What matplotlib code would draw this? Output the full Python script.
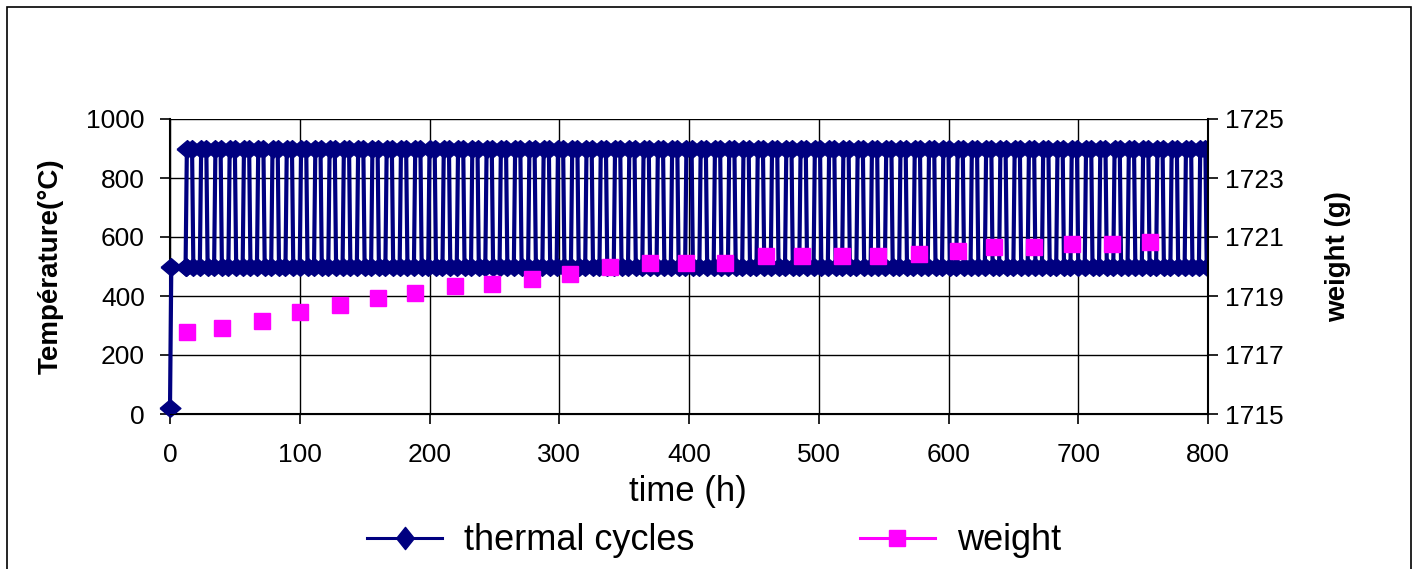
import matplotlib
matplotlib.use("Agg")
import matplotlib.pyplot as plt
from matplotlib.lines import Line2D
from matplotlib.patches import Rectangle

plt.rcParams['font.family'] = ['Liberation Sans', 'DejaVu Sans']

# ---- data ----
weight_time = [13, 40, 71, 100, 131, 160, 189, 220, 248, 279, 308, 339, 370,
               398, 428, 459, 487, 518, 546, 577, 607, 635, 666, 695, 726, 755]
weight_g = [1717.77, 1717.93, 1718.16, 1718.47, 1718.71, 1718.94, 1719.10,
            1719.34, 1719.42, 1719.58, 1719.74, 1719.97, 1720.13, 1720.13,
            1720.13, 1720.37, 1720.36, 1720.36, 1720.36, 1720.43, 1720.52,
            1720.67, 1720.67, 1720.75, 1720.75, 1720.83]

start_time = [0, 1, 12]
start_temp = [20, 500, 500]
cycle_starts = [12, 23, 34, 45, 56, 67, 78, 89, 100, 111, 122, 133, 144, 155,
                166, 177, 188, 199, 210, 221, 232, 243, 254, 265, 276, 287,
                298, 309, 320, 331, 342, 353, 364, 375, 386, 397, 408, 419,
                430, 441, 452, 463, 474, 485, 496, 507, 518, 529, 540, 551,
                562, 573, 584, 595, 606, 617, 628, 639, 650, 661, 672, 683,
                694, 705, 716, 727, 738, 749, 760, 771, 782, 793]
t_high = 900
t_low = 500
xticks = [0, 100, 200, 300, 400, 500, 600, 700, 800]
yticks_left = [0, 200, 400, 600, 800, 1000]
yticks_right = [1715, 1717, 1719, 1721, 1723, 1725]

# build thermal profile from the cycle start times
cyc_t = [start_time[-1]]
cyc_T = [start_temp[-1]]
for s in cycle_starts:
    cyc_t += [s + 1.0, s + 5.0, s + 6.0, s + 11.0]
    cyc_T += [t_high, t_high, t_low, t_low]

NAVY = '#000080'
MAGENTA = '#FF00FF'
diamond = [(-1, 0), (0, 0.85), (1, 0), (0, -0.85), (-1, 0)]
diamond_leg = [(-0.8, 0), (0, 1), (0.8, 0), (0, -1), (-0.8, 0)]

W, H = 1418, 569
fig = plt.figure(figsize=(W / 100, H / 100), dpi=100)
fig.patches.append(Rectangle((7 / W, -0.05), (1411 - 7) / W, 1 - 7 / H + 0.05,
                             transform=fig.transFigure, fill=False,
                             edgecolor='black', linewidth=1.2))

ax = fig.add_axes([170 / W, 1 - 414 / H, (1208 - 170) / W, (414 - 119) / H])
ax.set_xlim(0, 800)
ax.set_ylim(0, 1000)
ax.set_xticks(xticks)
ax.set_yticks(yticks_left)
ax.grid(True, color='black', linewidth=1.0)
ax.set_axisbelow(True)
for sp in ['top', 'right']:
    ax.spines[sp].set_visible(False)
ax.spines['left'].set_linewidth(1.5)
ax.spines['bottom'].set_linewidth(1.5)
ax.tick_params(axis='both', direction='out', length=7, width=1.2,
               labelsize=19)
ax.tick_params(axis='x', pad=14)
ax.tick_params(axis='y', pad=11)

# initial heating segment (drawn unclipped so its markers show whole)
ax.plot(start_time, start_temp, color=NAVY, linewidth=3.0, marker=diamond,
        markersize=15, clip_on=False, zorder=3)
# thermal cycles
ax.plot(cyc_t, cyc_T, color=NAVY, linewidth=3.0, marker=diamond,
        markersize=15, clip_on=True, zorder=3)

ax2 = ax.twinx()
ax2.set_ylim(1715, 1725)
ax2.set_yticks(yticks_right)
for sp in ['top', 'left']:
    ax2.spines[sp].set_visible(False)
ax2.spines['right'].set_linewidth(1.5)
ax2.tick_params(axis='y', direction='out', length=7, width=1.2,
                labelsize=19, pad=5)
ax2.plot(weight_time, weight_g, linestyle='none', marker='s',
         markersize=11.5, color=MAGENTA, zorder=4)

ax.set_ylabel('Température(°C)', fontsize=20, fontweight='bold')
ax.yaxis.label.set_va('center')
ax.yaxis.label.set_ha('center')
ax.yaxis.set_label_coords((51 - 170) / 1038, 0.5)

ax2.set_ylabel('weight (g)', fontsize=20, fontweight='bold')
ax2.yaxis.label.set_va('center')
ax2.yaxis.label.set_ha('center')
ax2.yaxis.set_label_coords((1338 - 170) / 1038, (414 - 257) / 295)

ax.set_xlabel('time (h)', fontsize=25)
ax.xaxis.label.set_va('center')
ax.xaxis.set_label_coords((688 - 170) / 1038, (414 - 492) / 295)

handles = [Line2D([], [], color=NAVY, marker=diamond_leg, markersize=16,
                  linewidth=2.2),
           Line2D([], [], color=MAGENTA, marker='s', markersize=11.5,
                  linewidth=2.2)]
fig.legend(handles, ['thermal cycles', 'weight'], loc='center',
           bbox_to_anchor=(714 / W, 1 - 541 / H), ncol=2, frameon=False,
           fontsize=26, handlelength=2.08, columnspacing=4.57,
           handletextpad=0.61, borderpad=0, borderaxespad=0)

fig.savefig('out.png', dpi=100)
